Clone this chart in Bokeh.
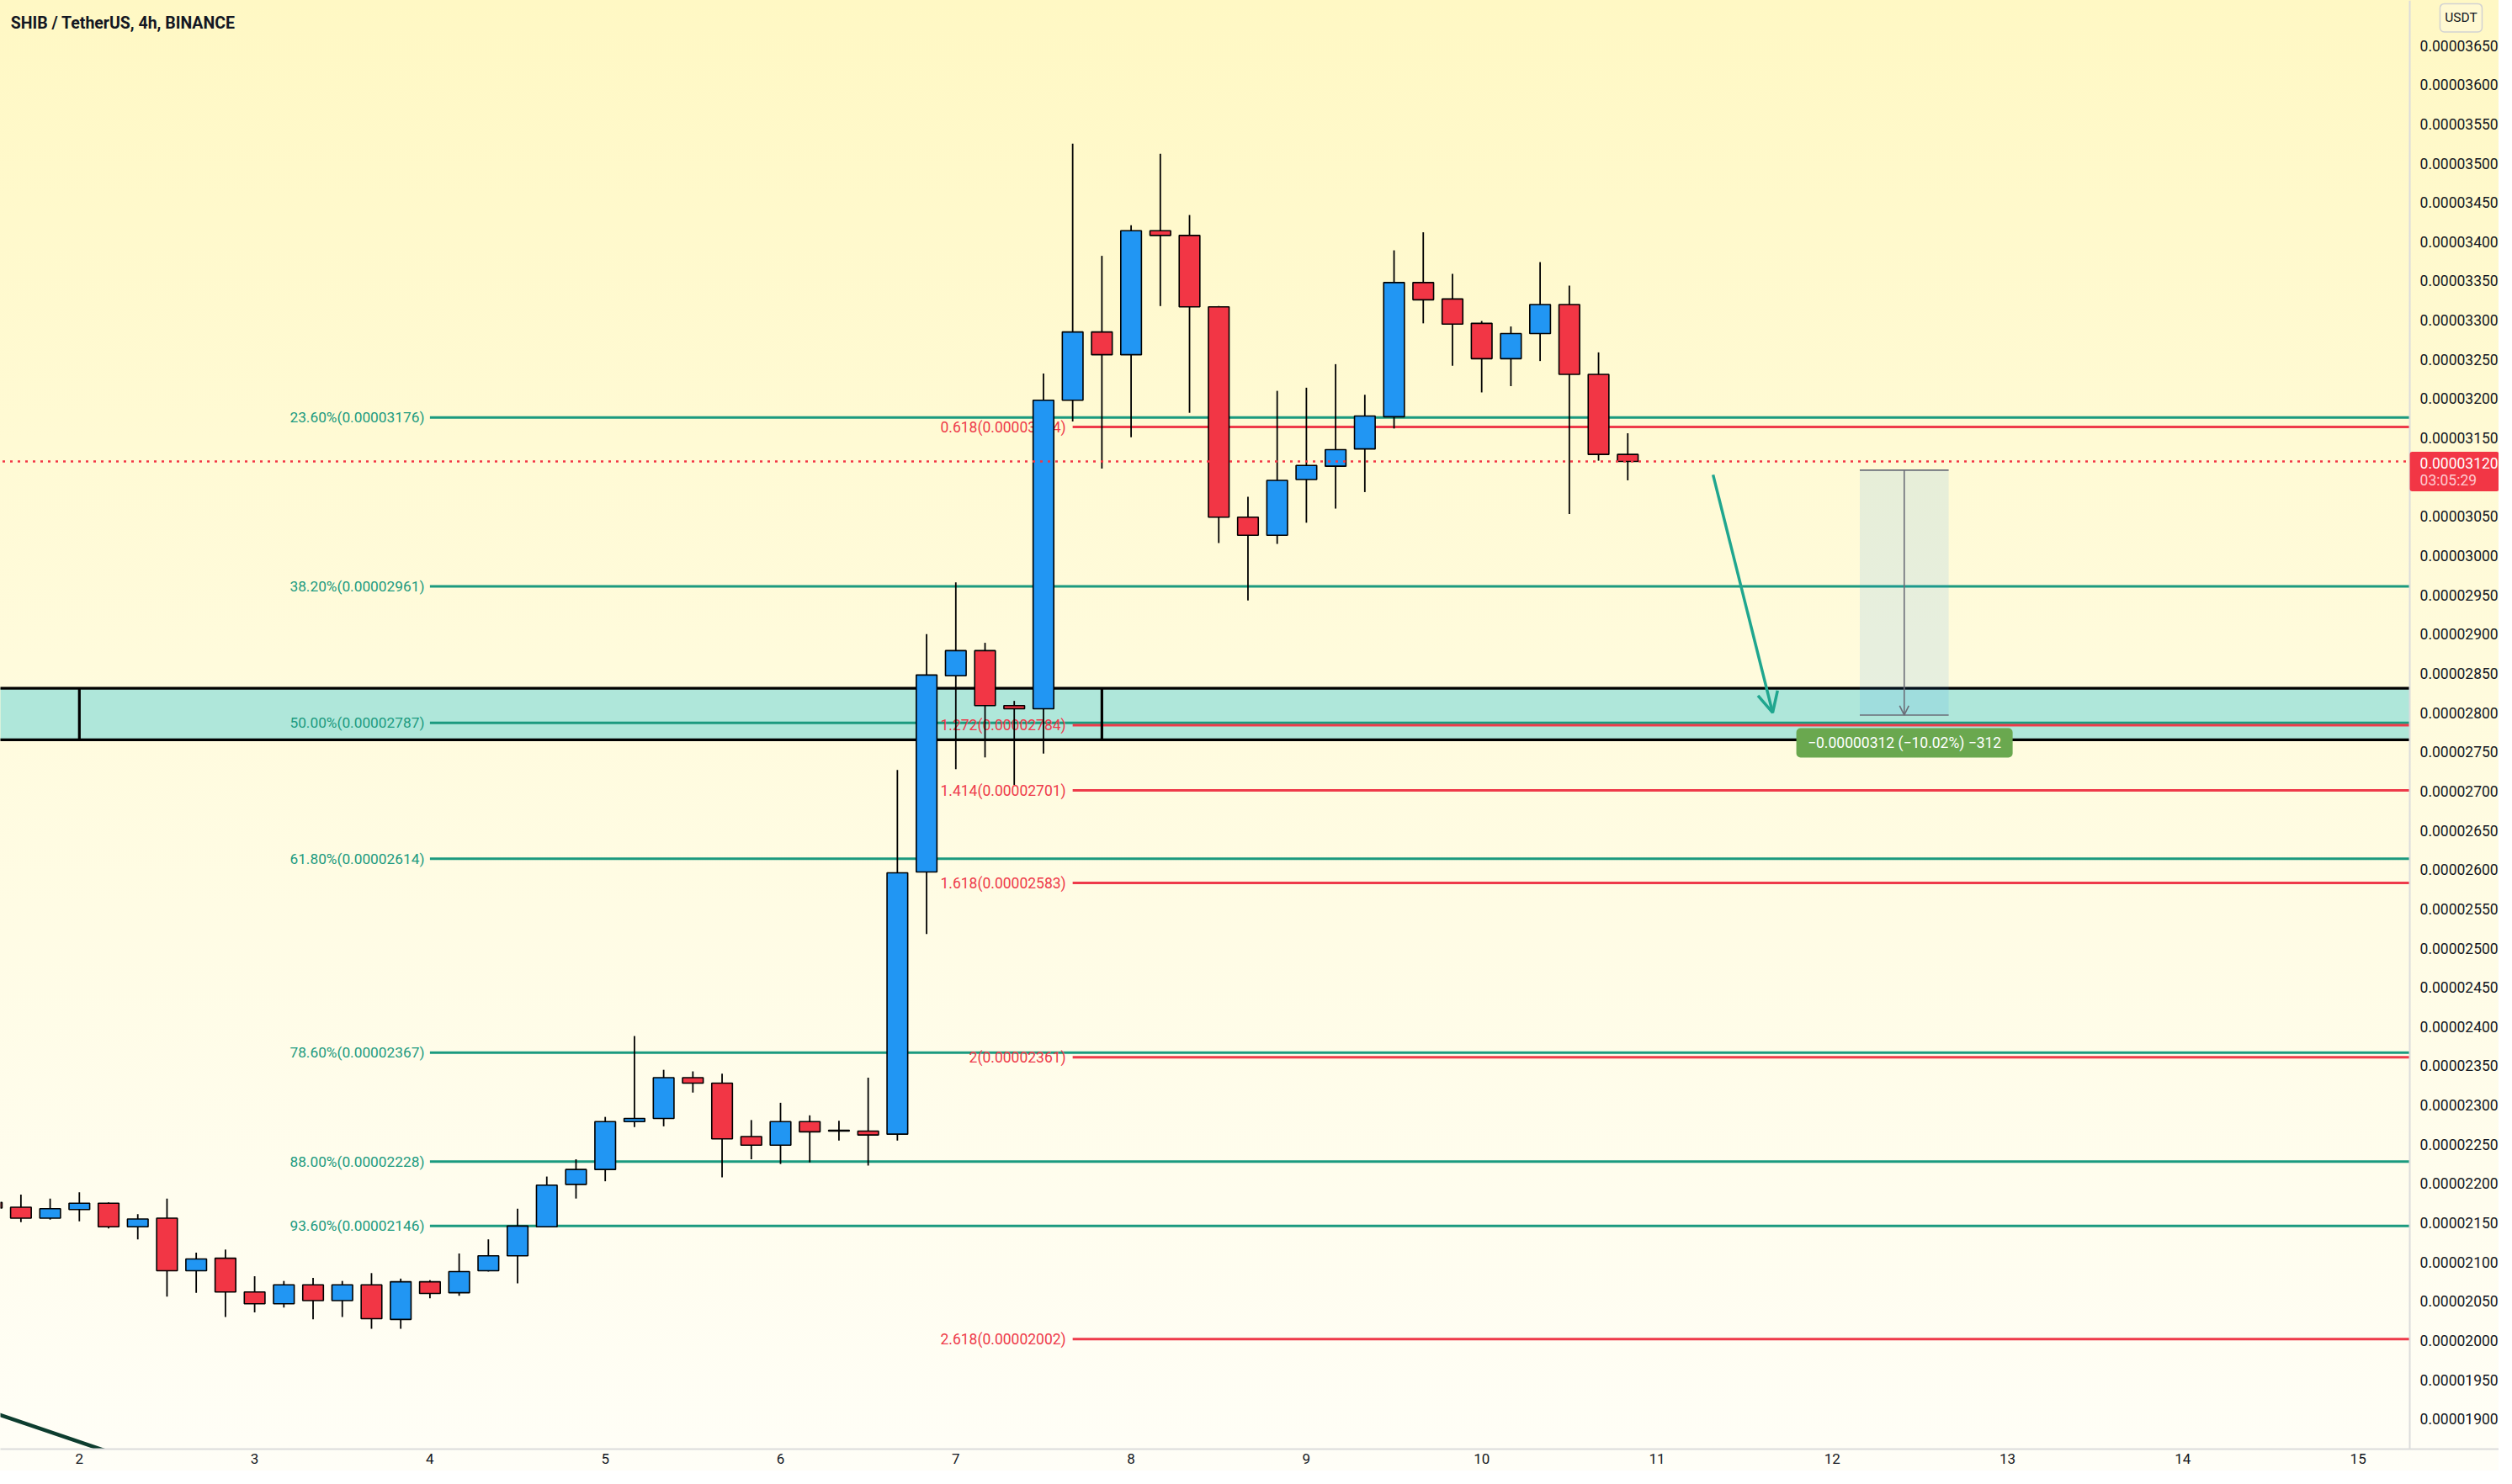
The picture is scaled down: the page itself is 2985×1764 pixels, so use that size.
from bokeh.plotting import figure
from bokeh.models import (ColumnDataSource, FixedTicker, PrintfTickFormatter, Range1d,
                          Arrow, OpenHead)
from bokeh.core.properties import value
from bokeh.embed import file_html
from bokeh.resources import INLINE

U = 1e-8  # all prices below are written in units of 0.00000001 USDT

# ---------------- candle data (SHIB/USDT, 4h) ----------------
first_day = 2.0        # day-of-month of candle index 0
first_index = -3       # first candle drawn is 3 bars before day 2 00:00
bar_days = 1.0 / 6.0   # 4 hours

opens = [2176, 2170, 2156, 2167, 2175, 2145, 2156, 2089, 2105, 2062, 2047, 2071, 2051, 2071,
         2027, 2075, 2061, 2089, 2108, 2145, 2199, 2218, 2279, 2283, 2335, 2328, 2260, 2249,
         2279, 2268, 2267, 2263, 2597, 2847, 2879, 2809, 2805, 3198, 3285, 3256, 3414, 3408,
         3317, 3049, 3026, 3097, 3114, 3136, 3177, 3348, 3327, 3296, 3251, 3283, 3320, 3231, 3129]
highs = [2178, 2186, 2181, 2189, 2176, 2161, 2181, 2112, 2116, 2082, 2076, 2080, 2076, 2086,
         2079, 2077, 2111, 2129, 2168, 2209, 2231, 2285, 2388, 2345, 2343, 2340, 2281, 2303,
         2287, 2280, 2335, 2727, 2900, 2966, 2889, 2815, 3232, 3525, 3382, 3421, 3512, 3434,
         3318, 3075, 3210, 3214, 3244, 3205, 3389, 3412, 3359, 3299, 3292, 3374, 3344, 3259, 3156]
lows = [2166, 2151, 2154, 2152, 2143, 2129, 2056, 2061, 2030, 2036, 2042, 2027, 2030, 2015,
        2015, 2054, 2057, 2088, 2073, 2145, 2181, 2203, 2272, 2273, 2316, 2208, 2231, 2225,
        2227, 2255, 2223, 2255, 2518, 2728, 2743, 2708, 2748, 3171, 3111, 3151, 3318, 3182,
        3016, 2943, 3015, 3042, 3060, 3081, 3162, 3296, 3242, 3208, 3216, 3248, 3053, 3121, 3096]
closes = [2169, 2156, 2168, 2175, 2145, 2155, 2089, 2104, 2062, 2047, 2071, 2051, 2071, 2028,
          2075, 2060, 2088, 2108, 2146, 2198, 2218, 2279, 2283, 2335, 2328, 2257, 2249, 2279,
          2266, 2267, 2262, 2596, 2848, 2879, 2809, 2805, 3198, 3285, 3256, 3414, 3408, 3317,
          3049, 3026, 3096, 3115, 3135, 3178, 3348, 3326, 3295, 3251, 3283, 3320, 3231, 3129, 3120]

# ---------------- drawings ----------------
ret_levels = ["23.60%", "38.20%", "50.00%", "61.80%", "78.60%", "88.00%", "93.60%"]
ret_prices = [3176, 2961, 2787, 2614, 2367, 2228, 2146]
ret_start_day = 4.0

ext_levels = ["0.618", "1.272", "1.414", "1.618", "2", "2.618"]
ext_prices = [3164, 2784, 2701, 2583, 2361, 2002]
ext_start_day = 7.0 + 4.0 / 6.0

zone_bottom, zone_top = 2765.5, 2831
zone_left_day, zone_right_day = 2.0, 7.0 + 5.0 / 6.0

last_price = 3120
last_price_text = "0.00003120"
countdown_text = "03:05:29"

arrow_start = (11.32, 3103)
arrow_end = (11.66, 2800)

range_top, range_bottom = 3109, 2797
range_left_day, range_right_day = 12.157, 12.664
range_text = "\u22120.00000312 (\u221210.02%) \u2212312"

trend_pts_day = [1.40, 2.25]
trend_pts_price = [1916.4, 1852.0]

y_ticks = list(range(1900, 3651, 50))
x_ticks = list(range(2, 16))

# ---------------- colours ----------------
UP = "#2196F3"
DOWN = "#F23645"
GREEN = "#1b9a7f"
RED = "#EE3A4A"
TXT = "#131722"

n = len(opens)
xs = [first_day + (first_index + i) * bar_days for i in range(n)]
src = ColumnDataSource(dict(
    x=xs,
    top=[max(o, c) * U for o, c in zip(opens, closes)],
    bottom=[min(o, c) * U for o, c in zip(opens, closes)],
    high=[h * U for h in highs],
    low=[l * U for l in lows],
    color=[UP if c >= o else DOWN for o, c in zip(opens, closes)],
))

X0, X1 = 1.5497, 15.8033      # frame spans the whole width (price scale drawn inside)
X_SEP = 15.2947               # price-scale separator
Y0, Y1 = 1861.8 * U, 3707.4 * U

p = figure(frame_width=2969, frame_height=1722, output_backend="svg", toolbar_location=None,
           x_range=Range1d(X0, X1), y_range=Range1d(Y0, Y1), y_axis_location="right",
           min_border_left=0, min_border_top=0, min_border_right=0, min_border_bottom=26)
p.styles = {"background-image": "linear-gradient(to bottom, #fff8c4 0%, #fffbdc 45%, #fffef7 100%)"}
p.background_fill_alpha = 0
p.border_fill_alpha = 0
p.outline_line_color = None
p.grid.visible = False

# axes
p.yaxis.fixed_location = X_SEP
p.yaxis.ticker = FixedTicker(ticks=[t * U for t in y_ticks])
p.yaxis.formatter = PrintfTickFormatter(format="%.8f")
p.xaxis.ticker = FixedTicker(ticks=x_ticks)
for ax in (p.xaxis, p.yaxis):
    ax.major_tick_line_color = None
    ax.minor_tick_line_color = None
    ax.major_tick_out = 0
    ax.major_tick_in = 0
    ax.axis_line_color = "#dcdcdc"
    ax.axis_line_width = 2
    ax.major_label_text_font = "Roboto"
    ax.major_label_text_color = TXT
p.yaxis.major_label_text_font_size = "17.5px"
p.xaxis.major_label_text_font_size = "17px"
p.yaxis.major_label_standoff = 12
p.xaxis.major_label_standoff = 5

FAR_L, FAR_R = 1.0, X_SEP

# zone
p.quad(left=FAR_L, right=FAR_R, bottom=zone_bottom * U, top=zone_top * U,
       fill_color="#afe7da", line_color=None)

# fib retracement
p.segment(x0=[ret_start_day] * len(ret_prices), x1=[FAR_R] * len(ret_prices),
          y0=[v * U for v in ret_prices], y1=[v * U for v in ret_prices],
          line_color=GREEN, line_width=3)
p.text(x=[ret_start_day] * len(ret_prices), y=[v * U for v in ret_prices],
       text=[f"{l}({v * U:.8f})" for l, v in zip(ret_levels, ret_prices)],
       text_align="right", text_baseline="middle", x_offset=-6.5,
       text_font=value("Roboto"), text_font_size="17.3px", text_color=GREEN)

# fib extension
p.segment(x0=[ext_start_day] * len(ext_prices), x1=[FAR_R] * len(ext_prices),
          y0=[v * U for v in ext_prices], y1=[v * U for v in ext_prices],
          line_color=RED, line_width=3)
p.text(x=[ext_start_day] * len(ext_prices), y=[v * U for v in ext_prices],
       text=[f"{l}({v * U:.8f})" for l, v in zip(ext_levels, ext_prices)],
       text_align="right", text_baseline="middle", x_offset=-8,
       text_font=value("Roboto"), text_font_size="17.5px", text_color=RED)

# zone borders
p.segment(x0=[FAR_L, FAR_L], x1=[FAR_R, FAR_R], y0=[zone_top * U, zone_bottom * U],
          y1=[zone_top * U, zone_bottom * U], line_color="black", line_width=3.2)
p.segment(x0=[zone_left_day, zone_right_day], x1=[zone_left_day, zone_right_day],
          y0=[zone_bottom * U] * 2, y1=[zone_top * U] * 2, line_color="black", line_width=3.2)

# price range measure
p.quad(left=range_left_day, right=range_right_day, bottom=range_bottom * U, top=range_top * U,
       fill_color="#2196f3", fill_alpha=0.11, line_color=None)
p.segment(x0=[range_left_day] * 2, x1=[range_right_day] * 2,
          y0=[range_top * U, range_bottom * U], y1=[range_top * U, range_bottom * U],
          line_color="#6b6e78", line_width=1.6)
mid = (range_left_day + range_right_day) / 2
p.add_layout(Arrow(x_start=mid, y_start=range_top * U, x_end=mid, y_end=range_bottom * U,
                   line_color="#6b6e78", line_width=1.6,
                   end=OpenHead(line_color="#6b6e78", line_width=1.6, size=11)))
p.quad(left=11.795, right=13.029, bottom=2742.8 * U, top=2780.3 * U,
       fill_color="#6aa84f", line_color=None, border_radius=5)
p.text(x=[12.412], y=[2761.6 * U], text=[range_text], text_align="center",
       text_baseline="middle", text_font=value("Roboto"), text_font_size="17.5px",
       text_color="white")

# trend line bottom-left
p.line(x=trend_pts_day, y=[v * U for v in trend_pts_price], line_color="#0d3d2f", line_width=4.5)

# candles
p.segment(x0="x", x1="x", y0="high", y1="low", source=src, line_color="black", line_width=1.8)
p.vbar(x="x", width=0.118, top="top", bottom="bottom", source=src,
       fill_color="color", line_color="black", line_width=1.6)

# current price line
p.segment(x0=[FAR_L], x1=[FAR_R], y0=[last_price * U], y1=[last_price * U],
          line_color=DOWN, line_width=2.6, line_dash="3 6")

# arrow
p.add_layout(Arrow(x_start=arrow_start[0], y_start=arrow_start[1] * U,
                   x_end=arrow_end[0], y_end=arrow_end[1] * U,
                   line_color="#20a68f", line_width=3.5,
                   end=OpenHead(line_color="#20a68f", line_width=3.5, size=24)))

# title
p.text(x=[1.6083], y=[3678.0 * U], text=["SHIB / TetherUS, 4h, BINANCE"],
       text_align="left", text_baseline="alphabetic", text_font=value("Roboto"),
       text_font_style="bold", text_font_size="19.5px", text_color=TXT)

# last-price badge on the price scale (drawn above the scale labels)
p.quad(left=X_SEP, right=X1, bottom=3081.9 * U, top=3132.4 * U,
       fill_color=DOWN, line_color=None, border_radius=3, level="overlay")
p.text(x=[X_SEP], y=[3118 * U], text=[last_price_text], x_offset=12,
       text_align="left", text_baseline="middle", text_font=value("Roboto"),
       text_font_size="17.5px", text_color="white", level="overlay")
p.text(x=[X_SEP], y=[3096.3 * U], text=[countdown_text], x_offset=12,
       text_align="left", text_baseline="middle", text_font=value("Roboto"),
       text_font_size="17.5px", text_color="#ffc9cf", level="overlay")

# currency badge
p.quad(left=15.4671, right=15.7071, bottom=3667.3 * U, top=3703.2 * U,
       fill_color="#fff9d2", line_color="#d2d2d2", line_width=1.5, border_radius=5,
       level="overlay")
p.text(x=[15.5871], y=[3685.3 * U], text=["USDT"], text_align="center",
       text_baseline="middle", text_font=value("Roboto"), text_font_size="15.5px",
       text_color=TXT, level="overlay")

open("out.html", "w").write(file_html(p, INLINE))
